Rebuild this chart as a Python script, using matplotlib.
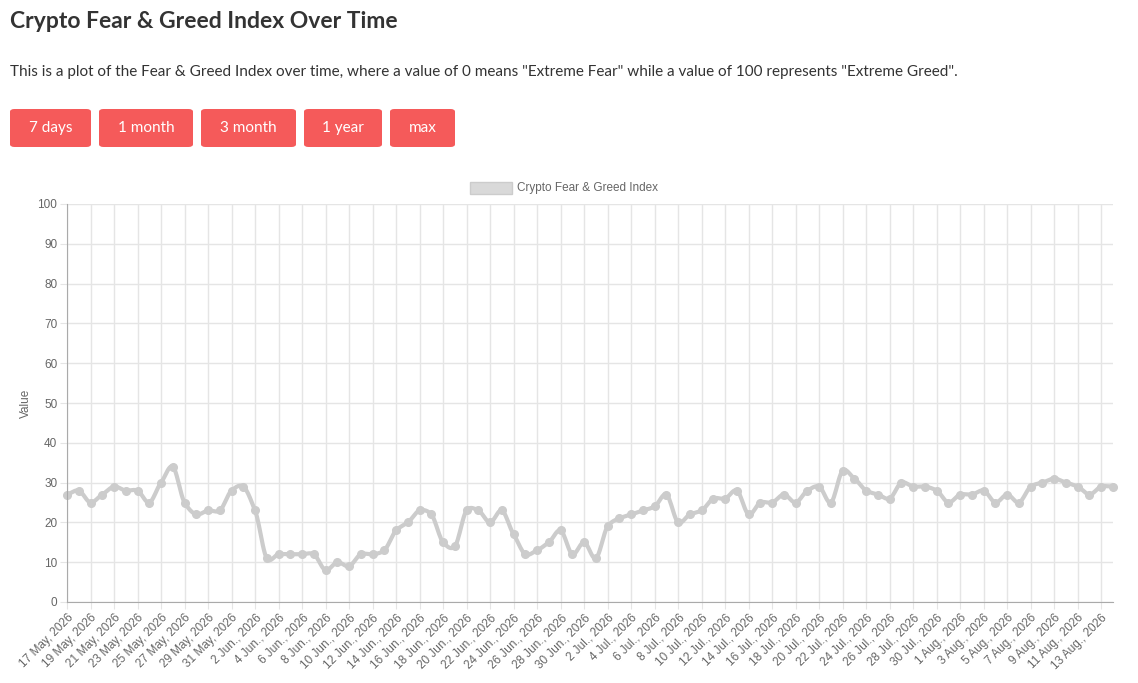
import numpy as np
import pandas as pd
import matplotlib
matplotlib.use("Agg")
import matplotlib.pyplot as plt
from matplotlib.patches import FancyBboxPatch, Rectangle

start_date = "2026-05-17"
values = [27,28,25,27,29,28,28,25,30,34,25,22,23,23,28,
          29,23,11,12,12,12,12,8,10,9,12,12,13,18,20,23,22,15,14,23,23,20,23,17,12,13,15,18,12,15,
          11,19,21,22,23,24,27,20,22,23,26,26,28,22,25,25,27,25,28,29,25,33,31,28,27,26,30,29,29,28,25,
          27,27,28,25,27,25,29,30,31,30,29,27,29,29]
buttons = ["7 days", "1 month", "3 month", "1 year", "max"]
month_names = {5: "May", 6: "Jun.", 7: "Jul.", 8: "Aug."}

dates = pd.date_range(start_date, periods=len(values), freq="D")
labels = [f"{d.day} {month_names[d.month]}, {d.year}" for d in dates]

W, H = 1138, 683
fig = plt.figure(figsize=(W/100, H/100), dpi=100)
plt.rcParams['font.family'] = ['Lato', 'DejaVu Sans']

fig.text(10/W, 1-22/H, "Crypto Fear & Greed Index Over Time", fontsize=16.5, fontweight='bold',
         color='#333333', va='center', family=['Lato', 'DejaVu Sans'])
fig.text(10/W, 1-72/H, 'This is a plot of the Fear & Greed Index over time, where a value of 0 means "Extreme Fear" while a value of 100 represents "Extreme Greed".',
         fontsize=11, color='#333333', va='center', family=['Lato', 'DejaVu Sans'])
bx = [(10, 91), (99, 193), (201, 296), (304, 382), (390, 455)]
for (x0, x1), b in zip(bx, buttons):
    fig.patches.append(FancyBboxPatch((x0/W, 1-147/H), (x1-x0)/W, 38/H, boxstyle="round,pad=0,rounding_size=0.004",
                                      transform=fig.transFigure, facecolor='#f55a5a', edgecolor='none'))
    fig.text((x0+x1)/2/W, 1-128/H, b, color='white', fontsize=11, ha='center', va='center',
             family=['Lato', 'DejaVu Sans'])

ax = fig.add_axes([67/W, 1-602/H, (1113-67)/W, (602-204)/H])
x = np.arange(len(values))
y = np.array(values, float)
xs, ys = [], []
m = np.gradient(y)
for i in range(len(x)-1):
    t = np.linspace(0, 1, 12, endpoint=False)
    h00 = 2*t**3-3*t**2+1; h10 = t**3-2*t**2+t; h01 = -2*t**3+3*t**2; h11 = t**3-t**2
    xs.extend(x[i]+t); ys.extend(h00*y[i]+h10*m[i]*0.8+h01*y[i+1]+h11*m[i+1]*0.8)
xs.append(x[-1]); ys.append(y[-1])
ax.plot(xs, ys, color='#cccccc', lw=3, solid_capstyle='round', clip_on=False)
ax.plot(x, y, 'o', color='#cccccc', ms=5.5, clip_on=False)

ax.set_xlim(0, len(values)-1)
ax.set_ylim(0, 100)
ax.set_yticks(range(0, 101, 10))
ax.set_xticks(x[::2])
ax.set_xticklabels(labels[::2], rotation=45, ha='right', rotation_mode='anchor', fontsize=8.5, color='#666666',
                   family=['Liberation Sans', 'DejaVu Sans'])
for t in ax.get_yticklabels():
    t.set_fontsize(8.5); t.set_color('#666666'); t.set_family(['Liberation Sans', 'DejaVu Sans'])
ax.grid(True, color='#e5e5e5', lw=1)
ax.set_axisbelow(True)
for s in ['top', 'right']:
    ax.spines[s].set_visible(False)
for s in ['left', 'bottom']:
    ax.spines[s].set_color('#aaaaaa')
ax.tick_params(length=5, color='#e5e5e5', pad=2)
ax.set_ylabel("Value", fontsize=8.5, color='#666666', family=['Liberation Sans', 'DejaVu Sans'])

fig.patches.append(Rectangle((470/W, 1-194/H), 42/W, 12/H, transform=fig.transFigure,
                             facecolor='#d9d9d9', edgecolor='#cccccc'))
fig.text(517/W, 1-188/H, "Crypto Fear & Greed Index", fontsize=8.5, color='#666666', va='center',
         family=['Liberation Sans', 'DejaVu Sans'])

fig.savefig("out.png", dpi=100)
